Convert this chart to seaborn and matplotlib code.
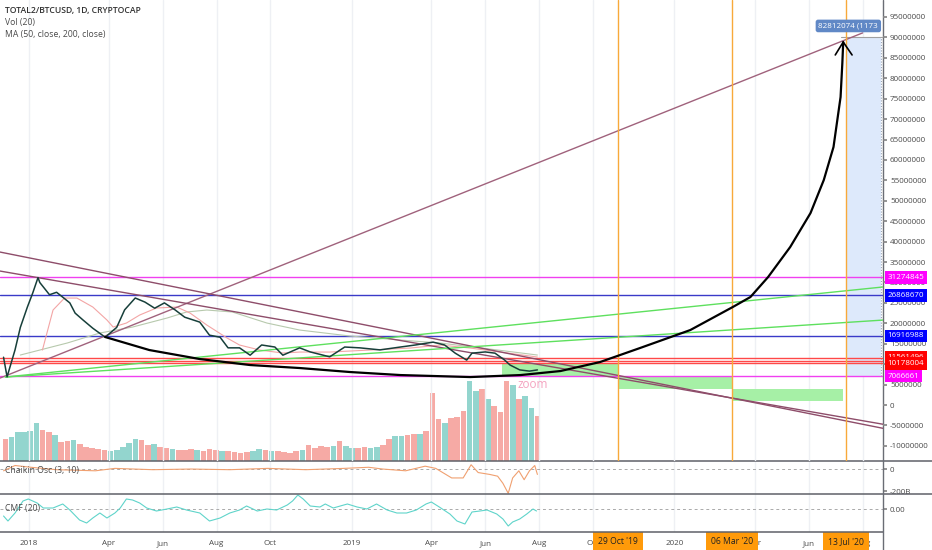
import numpy as np
import pandas as pd
import matplotlib
matplotlib.use("Agg")
import matplotlib.pyplot as plt
import matplotlib.transforms as mtrans
from matplotlib.lines import Line2D
import seaborn as sns

# ---------------- data (values in millions unless noted) ----------------
price_dates = ["2017-12-03", "2017-12-07", "2017-12-16", "2017-12-22", "2017-12-30", "2018-01-05",
               "2018-01-11", "2018-01-13", "2018-01-24", "2018-02-01", "2018-02-08", "2018-02-16",
               "2018-02-22", "2018-03-03", "2018-03-14", "2018-03-28", "2018-04-10", "2018-04-19",
               "2018-05-01", "2018-05-12", "2018-05-23", "2018-06-03", "2018-06-15", "2018-06-26",
               "2018-07-13", "2018-07-24", "2018-08-05", "2018-08-14", "2018-08-27", "2018-09-08",
               "2018-09-21", "2018-10-06", "2018-10-15", "2018-11-03", "2018-11-15", "2018-12-07",
               "2018-12-24", "2019-01-10", "2019-02-02", "2019-02-25", "2019-03-14", "2019-04-03",
               "2019-04-16", "2019-04-28", "2019-05-11", "2019-05-17", "2019-06-01", "2019-06-12",
               "2019-06-23", "2019-06-29", "2019-07-10", "2019-07-21", "2019-07-30"]
price_vals = [11.7, 6.9, 13.5, 19.0, 24.0, 27.4, 31.2, 30.0, 27.0, 27.6, 26.4, 25.0,
              22.5, 20.8, 18.8, 16.6, 19.0, 23.3, 26.2, 25.2, 23.7, 25.0, 23.3, 21.5,
              20.3, 17.1, 16.6, 14.0, 14.0, 12.2, 14.7, 14.2, 12.2, 14.0, 13.0, 11.8,
              14.2, 14.0, 13.5, 14.2, 14.7, 15.4, 14.7, 12.7, 11.0, 12.7, 13.0, 12.7,
              11.0, 9.8, 8.6, 8.3, 8.6]

ma50_dates = ["2018-01-16", "2018-01-28", "2018-02-10", "2018-02-24", "2018-03-14", "2018-03-30",
              "2018-04-06", "2018-04-21", "2018-05-06", "2018-05-25", "2018-06-17", "2018-07-02",
              "2018-07-21", "2018-08-13", "2018-08-27", "2018-09-19", "2018-10-15", "2018-11-03",
              "2018-12-07", "2019-01-21", "2019-03-08", "2019-04-11", "2019-05-15", "2019-06-18",
              "2019-07-30"]
ma50_vals = [13.46, 23.26, 26.19, 26.19, 23.99, 20.81, 19.09, 20.07, 22.03, 23.75, 23.99, 22.52,
             19.58, 16.40, 14.69, 13.46, 12.73, 12.97, 12.97, 13.46, 13.95, 14.69, 13.95, 12.97,
             11.75]

ma200_dates = ["2017-12-22", "2018-02-13", "2018-03-22", "2018-04-28", "2018-06-06", "2018-06-28",
               "2018-07-21", "2018-08-19", "2018-09-27", "2018-11-03", "2018-12-30", "2019-02-25",
               "2019-04-11", "2019-06-06", "2019-07-30"]
ma200_vals = [12.24, 15.18, 17.63, 19.09, 21.30, 22.77, 23.26, 22.77, 20.07, 18.36, 16.89, 15.91,
              15.18, 13.71, 12.24]

# weekly volume (relative units), first week starting 2017-12-02
vol_start = "2017-12-02"
vol_vals = [22, 24, 29, 29, 30, 38, 31, 29, 26, 19, 20, 21, 17, 14, 13, 12, 11, 10, 11, 14,
            18, 22, 21, 16, 17, 14, 13, 12, 11, 11, 12, 11, 10, 12, 11, 10, 10, 9, 8, 9,
            10, 12, 11, 10, 10, 9, 8, 10, 11, 16, 13, 15, 14, 15, 20, 15, 13, 13, 14, 13,
            14, 16, 22, 25, 25, 26, 27, 27, 30, 68, 42, 38, 43, 44, 50, 80, 70, 72, 62, 55,
            49, 80, 76, 62, 65, 53, 45]
vol_dir = "duuuuuddudduddddduuuuudduddudddudddudddduududdddudddduduudduudduudduddduddduududdduduud"[:87]

chaikin_dates = ["2017-12-03", "2017-12-16", "2018-01-03", "2018-02-01", "2018-03-17", "2018-04-08",
                 "2018-05-21", "2018-07-03", "2018-08-16", "2018-09-28", "2018-11-10", "2018-12-23",
                 "2019-01-20", "2019-02-05", "2019-03-03", "2019-03-25", "2019-04-06", "2019-04-24",
                 "2019-05-07", "2019-05-16", "2019-05-24", "2019-06-06", "2019-06-15", "2019-06-21",
                 "2019-06-27", "2019-07-02", "2019-07-09", "2019-07-15", "2019-07-21", "2019-07-27",
                 "2019-07-30"]
chaikin_vals_bn = [-16, 32, 16, -6, -16, 6, -6, 0, -6, 6, -6, 6, 16, 0, -16, 26, 6, -81,
                   -81, 39, -32, -49, -65, -130, -221, -81, -16, -97, -16, 32, -49]

cmf_dates = ["2017-12-03", "2017-12-08", "2017-12-16", "2017-12-25", "2017-12-31", "2018-01-10",
             "2018-01-17", "2018-01-28", "2018-02-08", "2018-02-16", "2018-02-27", "2018-03-07",
             "2018-03-14", "2018-03-22", "2018-03-30", "2018-04-08", "2018-04-14", "2018-04-21",
             "2018-04-28", "2018-05-06", "2018-05-14", "2018-05-25", "2018-06-06", "2018-06-17",
             "2018-06-28", "2018-07-13", "2018-07-24", "2018-08-05", "2018-08-16", "2018-08-27",
             "2018-09-04", "2018-09-16", "2018-09-27", "2018-10-08", "2018-10-20", "2018-10-26",
             "2018-11-01", "2018-11-07", "2018-11-15", "2018-11-26", "2018-12-02", "2018-12-11",
             "2018-12-27", "2019-01-07", "2019-01-18", "2019-01-29", "2019-02-10", "2019-02-21",
             "2019-03-04", "2019-03-15", "2019-03-26", "2019-04-01", "2019-04-10", "2019-04-22",
             "2019-04-30", "2019-05-09", "2019-05-17", "2019-05-26", "2019-06-03", "2019-06-14",
             "2019-06-21", "2019-06-27", "2019-07-02", "2019-07-10", "2019-07-18", "2019-07-25",
             "2019-07-29"]
cmf_vals = [-0.07, -0.12, -0.04, 0.08, 0.10, 0.06, 0.01, 0.01, 0.05, -0.01, -0.11, -0.14,
            -0.09, -0.04, -0.09, -0.04, 0.01, 0.10, 0.09, 0.06, 0.01, -0.02, 0.00, 0.02,
            -0.01, -0.04, -0.12, -0.09, -0.04, -0.01, 0.03, -0.02, 0.00, -0.01, 0.04, 0.08,
            0.14, 0.10, 0.03, 0.02, 0.05, 0.01, 0.05, 0.02, 0.00, 0.05, -0.01, -0.04,
            -0.04, -0.01, 0.05, 0.07, 0.02, -0.05, -0.12, -0.15, -0.03, -0.02, -0.01, -0.05,
            -0.10, -0.17, -0.13, -0.10, -0.05, 0.00, -0.02]

# horizontal levels
level_vals = [31274845, 26868670, 16916988, 11561496, 10890000, 10178004, 7066661]
level_labels = ["31274845", "26868670", "16916988", "11561496", "", "10178004", "7066661"]
level_colors = ["#f040f0", "#3a3ac8", "#3a3ac8", "#ff4848", "#ff4848", "#ff4848", "#f040f0"]
level_label_bg = ["#ff00ff", "#0000ff", "#0000ff", "#ff0000", "#ff0000", "#ff0000", "#ff00ff"]

# trend lines: (dates, values)
rise_line = (["2017-11-29", "2020-08-01"], [6.6, 91.1])
fall_line1 = (["2017-11-29", "2020-08-24"], [37.45, -5.7])
fall_line2 = (["2017-11-29", "2020-08-24"], [32.8, -4.7])
green_line1 = (["2017-12-05", "2020-08-24"], [6.85, 28.9])
green_line2 = (["2017-12-05", "2020-08-24"], [6.85, 20.8])

curve_dates = ["2018-03-28", "2018-05-17", "2018-07-13", "2018-09-08", "2018-11-03", "2018-12-30",
               "2019-02-25", "2019-05-15", "2019-07-11", "2019-08-25", "2019-10-09", "2019-11-23",
               "2020-01-19", "2020-03-07", "2020-03-27", "2020-04-16", "2020-05-11", "2020-06-03",
               "2020-06-18", "2020-06-29", "2020-07-07", "2020-07-09", "2020-07-10"]
curve_vals = [16.65, 13.46, 11.26, 9.79, 9.06, 8.08, 7.34, 6.85, 7.34, 8.32, 10.53, 13.95,
              18.36, 23.99, 26.44, 31.33, 38.68, 47.0, 55.08, 63.16, 75.4, 83.72, 88.86]
arrow_dates = ["2020-07-01", "2020-07-10", "2020-07-20"]
arrow_vals = [85.7, 88.86, 85.7]

green_boxes = [("2019-06-20", "2019-10-29", 6.85, 10.28),
               ("2019-10-29", "2020-03-06", 3.9, 6.85),
               ("2020-03-06", "2020-07-10", 1.05, 3.9)]
blue_box = ("2020-07-13", "2020-08-22", 7.07, 90.0)

event_dates = ["2019-10-29", "2020-03-06", "2020-07-13"]
event_labels = ["29 Oct '19", "06 Mar '20", "13 Jul '20"]

tick_dates = ["2018-01-01", "2018-04-01", "2018-06-01", "2018-08-01", "2018-10-01", "2019-01-01",
              "2019-04-01", "2019-06-01", "2019-08-01", "2019-10-01", "2020-01-01", "2020-04-01",
              "2020-06-01", "2020-08-01"]
tick_labels = ["2018", "Apr", "Jun", "Aug", "Oct", "2019", "Apr", "Jun", "Aug", "Oct", "2020",
               "Apr", "Jun", "Aug"]

# ---------------- styling ----------------
sns.set_theme(style="white")
plt.rcParams["font.family"] = ["Open Sans", "DejaVu Sans"]
TXT = "#4a4a4a"
M = 1e6

W, H = 932, 550
fig = plt.figure(figsize=(W / 100, H / 100), dpi=100)
fig.patch.set_facecolor("white")
xr = 883 / W
ax = fig.add_axes([0, 1 - 461 / H, xr, 461 / H])
ax2 = fig.add_axes([0, 1 - 494 / H, xr, 32 / H], sharex=ax)
ax3 = fig.add_axes([0, 1 - 532 / H, xr, 38 / H], sharex=ax)

D = pd.to_datetime
xlim = (D("2017-11-29"), D("2020-08-24"))

# volume on twin axis (behind)
axv = ax.twinx()
vdates = pd.date_range(vol_start, periods=len(vol_vals), freq="7D")
vcols = ["#93d5ce" if c == "u" else "#f6aaa5" for c in vol_dir]
axv.bar(vdates, vol_vals, width=6.4, color=vcols, align="edge", linewidth=0)
axv.set_ylim(0, 461)
axv.set_axis_off()
axv.set_zorder(1)
ax.set_zorder(2)
ax.patch.set_visible(False)

# grid
for a in (ax, ax2, ax3):
    for d in tick_dates:
        a.axvline(D(d), color="#eef0f4", lw=1, zorder=0)

# shaded boxes
for d0, d1, v0, v1 in green_boxes:
    ax.fill_between([D(d0), D(d1)], v0 * M, v1 * M, color="#a6f0a6", lw=0, zorder=1)
bd0, bd1, bv0, bv1 = blue_box
ax.fill_between([D(bd0), D(bd1)], bv0 * M, bv1 * M, color="#dde9fb", lw=0, zorder=1)
ax.plot([D(bd1), D(bd1)], [bv0 * M, bv1 * M], color="#9aa4b4", lw=0.8, ls=(0, (1, 1.5)), zorder=2)
ax.plot([D(bd0) - pd.Timedelta(days=5), xlim[1]], [bv1 * M, bv1 * M], color="#a0a0a0", lw=0.8, zorder=2)

# horizontal levels
for v, c in zip(level_vals, level_colors):
    ax.axhline(v, color=c, lw=1.0, zorder=3)

# MAs
sns.lineplot(x=D(ma200_dates), y=np.array(ma200_vals) * M, ax=ax, color="#b7c9ad", lw=0.8, zorder=3)
sns.lineplot(x=D(ma50_dates), y=np.array(ma50_vals) * M, ax=ax, color="#f3a5a5", lw=0.8, zorder=3)

# trend lines
for (ds, vs), c in [(rise_line, "#a0627c"), (fall_line1, "#8e4d6a"), (fall_line2, "#8e4d6a")]:
    sns.lineplot(x=D(ds), y=np.array(vs) * M, ax=ax, color=c, lw=1.0, zorder=4)
for ds, vs in (green_line1, green_line2):
    sns.lineplot(x=D(ds), y=np.array(vs) * M, ax=ax, color="#5ee05e", lw=1.0, zorder=4)

# price
sns.lineplot(x=D(price_dates), y=np.array(price_vals) * M, ax=ax, color="#173f3a", lw=1.1, zorder=5)

# event verticals
for d in event_dates:
    ax.axvline(D(d), color="#f8a93a", lw=1.0, zorder=4)

# black curve + arrow
sns.lineplot(x=D(curve_dates), y=np.array(curve_vals) * M, ax=ax, color="black", lw=1.6,
             sort=False, zorder=6)
sns.lineplot(x=D(arrow_dates), y=np.array(arrow_vals) * M, ax=ax, color="black", lw=1.2,
             sort=False, zorder=6)

ax.text(D("2019-07-08"), 5.1 * M, "zoom", color="#f4a3c0", fontsize=8.5, va="center",
        ha="left", zorder=7)

ax.set_xlim(*xlim)
ax.set_ylim(-13.7 * M, 99.15 * M)
ax.yaxis.tick_right()
ax.set_yticks(np.arange(-10, 96, 5) * M)
ax.set_yticklabels([f"{int(t)}" for t in np.arange(-10, 96, 5) * M])
ax.tick_params(axis="y", length=3, pad=2, labelsize=5.8, colors=TXT, color="#888")
ax.tick_params(axis="x", length=0, labelbottom=False)
ax.set_xlabel("")
ax.set_ylabel("")

# right-axis level labels
trans = mtrans.blended_transform_factory(ax.transAxes, ax.transData)
order = [5, 3, 0, 1, 2, 6]
for i in order:
    lab = level_labels[i]
    if not lab:
        continue
    ax.text(1.005, level_vals[i], lab, transform=trans, ha="left", va="center", fontsize=5.8,
            color="white", clip_on=False, zorder=10 + i,
            bbox=dict(boxstyle="square,pad=0.35", fc=level_label_bg[i], ec="none"))

# top label
ax.text(D("2020-06-12"), 92.8 * M, "82812074 (1173", fontsize=5.8, color="white", ha="left",
        va="center", clip_on=True, zorder=10,
        bbox=dict(boxstyle="round,pad=0.35,rounding_size=0.3", fc="#6088c6", ec="none"))

# legend texts
ax.text(5 / 883, 1 - 11 / 461, "TOTAL2/BTCUSD, 1D, CRYPTOCAP", transform=ax.transAxes,
        fontsize=6.2, fontweight="semibold", color="#333333", va="center", ha="left")
ax.text(5 / 883, 1 - 22 / 461, "Vol (20)", transform=ax.transAxes, fontsize=6.2, color=TXT,
        va="center", ha="left")
ax.text(5 / 883, 1 - 34 / 461, "MA (50, close, 200, close)", transform=ax.transAxes,
        fontsize=6.2, color=TXT, va="center", ha="left")

# Chaikin pane
sns.lineplot(x=D(chaikin_dates), y=np.array(chaikin_vals_bn) * 1e9, ax=ax2, color="#f0a070",
             lw=0.8, zorder=3)
ax2.axhline(0, color="#aaaaaa", lw=0.7, ls=(0, (3, 3)), zorder=2)
ax2.set_ylim(-227e9, 64e9)
ax2.yaxis.tick_right()
ax2.set_yticks([0, -200e9])
ax2.set_yticklabels(["0", "-200B"])
ax2.tick_params(axis="y", length=3, pad=2, labelsize=5.8, colors=TXT, color="#888")
ax2.tick_params(axis="x", length=0, labelbottom=False)
ax2.text(5 / 883, 0.72, "Chaikin Osc (3, 10)", transform=ax2.transAxes, fontsize=6.2,
         color=TXT, va="center", ha="left")
ax2.set_xlabel("")
ax2.set_ylabel("")

# CMF pane
sns.lineplot(x=D(cmf_dates), y=cmf_vals, ax=ax3, color="#5fd4ca", lw=0.8, zorder=3)
ax3.axhline(0, color="#aaaaaa", lw=0.7, ls=(0, (3, 3)), zorder=2)
ax3.set_ylim(-0.23, 0.15)
ax3.yaxis.tick_right()
ax3.set_yticks([0])
ax3.set_yticklabels(["0.00"])
ax3.tick_params(axis="y", length=3, pad=2, labelsize=5.8, colors=TXT, color="#888")
ax3.text(5 / 883, 0.62, "CMF (20)", transform=ax3.transAxes, fontsize=6.2, color=TXT,
         va="center", ha="left")
ax3.set_xticks(D(tick_dates))
ax3.set_xticklabels(tick_labels)
ax3.tick_params(axis="x", length=3, pad=3, labelsize=5.8, colors=TXT, color="#888")
ax3.set_xlabel("")
ax3.set_ylabel("")

# event labels on time axis
tx = mtrans.blended_transform_factory(ax3.transData, ax3.transAxes)
for d, lab in zip(event_dates, event_labels):
    ax3.text(D(d), -0.25, lab, transform=tx, ha="center", va="center", fontsize=6.2,
             color="#222222", clip_on=False, zorder=20,
             bbox=dict(boxstyle="square,pad=0.55", fc="#ff9a0a", ec="none"))

for a in (ax, ax2, ax3):
    for s in ("top", "left", "bottom", "right"):
        a.spines[s].set_visible(False)
    a.grid(False)

# pane separators and price-axis line
sep = "#5f6168"
for yy, x1 in [(461, 1.0), (494, 1.0), (532, xr)]:
    fig.add_artist(Line2D([0, x1], [1 - yy / H, 1 - yy / H], transform=fig.transFigure,
                          color=sep, lw=1.1))
fig.add_artist(Line2D([xr, xr], [0, 1], transform=fig.transFigure, color="#6a6d75", lw=1.0))

fig.savefig("out.png", dpi=100, facecolor="white")
